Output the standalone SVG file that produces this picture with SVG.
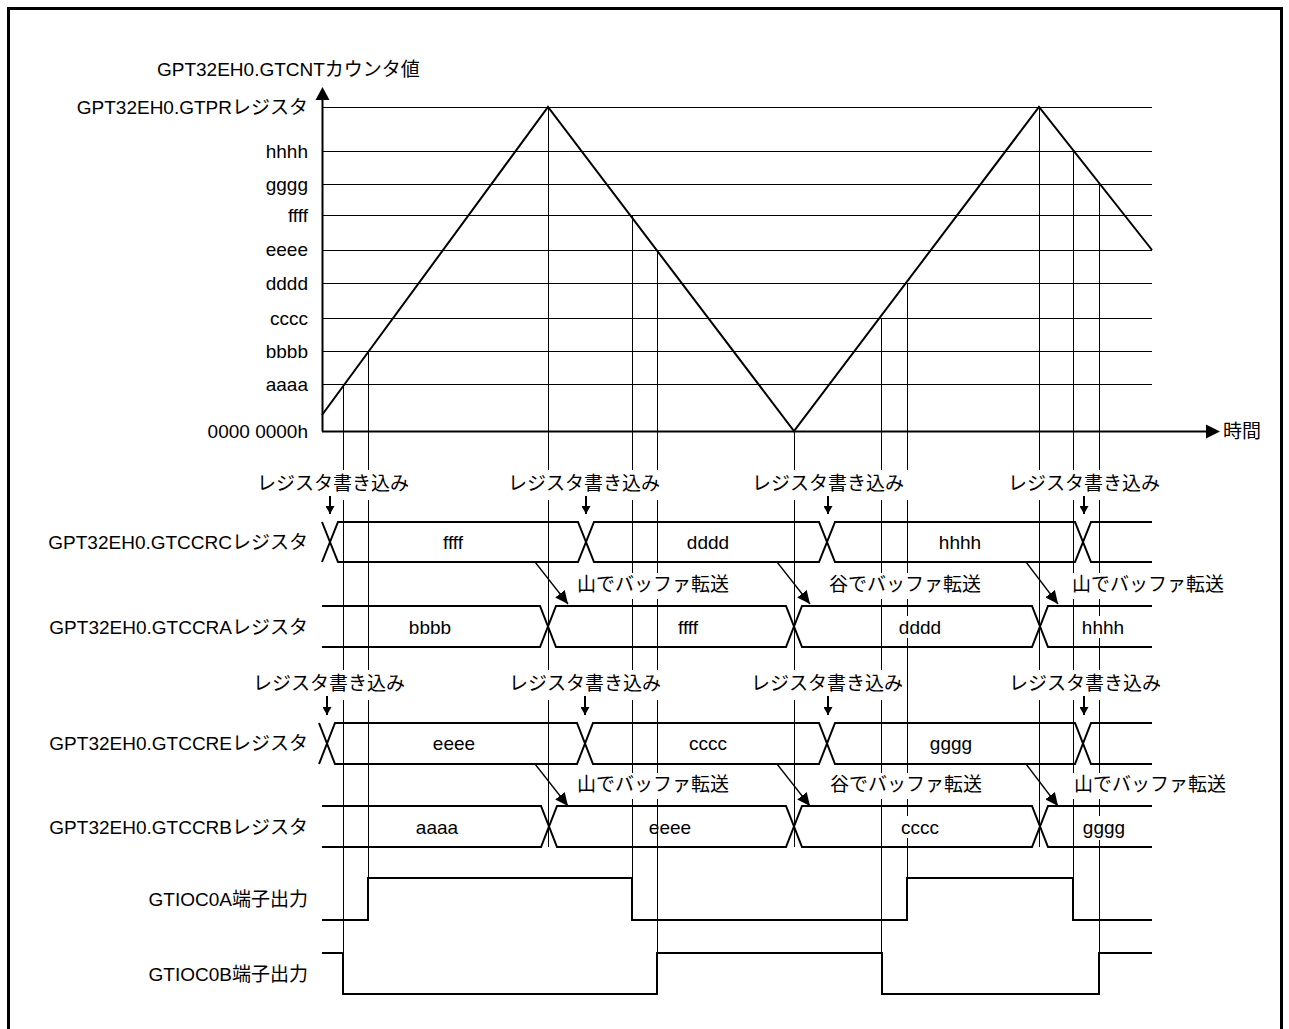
<svg xmlns="http://www.w3.org/2000/svg" width="1289" height="1029" viewBox="0 0 1289 1029">
<style>
text{font-family:"Liberation Sans","Noto Sans CJK JP",sans-serif;font-size:19px;fill:#000}
.r{text-anchor:end}
.m{text-anchor:middle}
.grid{stroke:#000;stroke-width:1;fill:none}
.vl{stroke:#000;stroke-width:1;fill:none}
.sig{stroke:#000;stroke-width:2;fill:none;stroke-linejoin:miter}
.bg{fill:#fff;stroke:none}
.arr{stroke:#000;stroke-width:1.3;fill:none}
.dn{stroke:#000;stroke-width:2;fill:none}
</style>
<defs>
<marker id="ah" markerWidth="14" markerHeight="12" refX="13" refY="6" orient="auto" markerUnits="userSpaceOnUse"><path d="M0,0 L13,6 L0,12 z" fill="#000"/></marker>
<marker id="ahs" markerWidth="9" markerHeight="9" refX="8" refY="4.5" orient="auto" markerUnits="userSpaceOnUse"><path d="M0,0 L8,4.5 L0,9 z" fill="#000"/></marker>
</defs>
<rect x="0" y="0" width="1289" height="1029" fill="#fff"/>
<rect x="8.5" y="8.5" width="1273" height="1100" fill="none" stroke="#000" stroke-width="3"/>

<g id="grid">
<path class="grid" d="M322,107.5H1152 M322,151.5H1152 M322,184.5H1152 M322,215.5H1152 M322,250.5H1152 M322,283.5H1152 M322,318.5H1152 M322,351.5H1152 M322,384.5H1152"/>
</g>

<g id="axes">
<path class="sig" d="M322.5,431.5V98" stroke-width="2"/>
<polygon points="322.5,87 315.5,100 329.5,100" fill="#000"/>
<path class="sig" d="M322,431.5H1208"/>
<polygon points="1220,431.5 1206,424.5 1206,438.5" fill="#000"/>
<text x="157" y="76">GPT32EH0.GTCNTカウンタ値</text>
<text x="1223" y="438">時間</text>
</g>

<g id="ylabels">
<text class="r" x="308" y="114">GPT32EH0.GTPRレジスタ</text>
<text class="r" x="308" y="158">hhhh</text>
<text class="r" x="308" y="191">gggg</text>
<text class="r" x="308" y="222">ffff</text>
<text class="r" x="308" y="256">eeee</text>
<text class="r" x="308" y="290">dddd</text>
<text class="r" x="308" y="325">cccc</text>
<text class="r" x="308" y="358">bbbb</text>
<text class="r" x="308" y="391">aaaa</text>
<text class="r" x="308" y="438">0000 0000h</text>
</g>

<g id="counter">
<polyline class="sig" points="322,415 548,107 794,431 1039,107 1152,250"/>
</g>

<g id="connectors">
<path class="vl" d="M343.5,384V994 M368.5,351V920 M548.5,107V847 M632.5,215V920 M657.5,250V994 M794.5,431V847 M881.5,318V994 M907.5,283V920 M1039.5,107V847 M1073.5,151V920 M1099.5,184V994"/>
</g>

<g id="row-gtccrc">
<path class="sig" d="M322,522 L338,562 L578,562 L594,522 L819,522 L835,562 L1075,562 L1091,522 L1152,522"/>
<path class="sig" d="M322,562 L338,522 L578,522 L594,562 L819,562 L835,522 L1075,522 L1091,562 L1152,562"/>
<text class="r" x="308" y="549">GPT32EH0.GTCCRCレジスタ</text>
<text class="m" x="453" y="549">ffff</text>
<text class="m" x="708" y="549">dddd</text>
<text class="m" x="960" y="549">hhhh</text>
</g>

<g id="row-gtccra">
<path class="sig" d="M322,606 L540,606 L556,647 L786,647 L802,606 L1032,606 L1048,647 L1152,647"/>
<path class="sig" d="M322,647 L540,647 L556,606 L786,606 L802,647 L1032,647 L1048,606 L1152,606"/>
<text class="r" x="308" y="634">GPT32EH0.GTCCRAレジスタ</text>
<text class="m" x="430" y="634">bbbb</text>
<text class="m" x="688" y="634">ffff</text>
<rect class="bg" x="898" y="616" width="44" height="22"/>
<text class="m" x="920" y="634">dddd</text>
<rect class="bg" x="1082" y="616" width="44" height="22"/>
<text class="m" x="1103" y="634">hhhh</text>
</g>

<g id="row-gtccre">
<path class="sig" d="M319,723 L335,764 L577,764 L593,723 L819,723 L835,764 L1075,764 L1091,723 L1152,723"/>
<path class="sig" d="M319,764 L335,723 L577,723 L593,764 L819,764 L835,723 L1075,723 L1091,764 L1152,764"/>
<text class="r" x="308" y="750">GPT32EH0.GTCCREレジスタ</text>
<text class="m" x="454" y="750">eeee</text>
<text class="m" x="708" y="750">cccc</text>
<text class="m" x="951" y="750">gggg</text>
</g>

<g id="row-gtccrb">
<path class="sig" d="M322,806 L541,806 L557,847 L786,847 L802,806 L1032,806 L1048,847 L1152,847"/>
<path class="sig" d="M322,847 L541,847 L557,806 L786,806 L802,847 L1032,847 L1048,806 L1152,806"/>
<text class="r" x="308" y="834">GPT32EH0.GTCCRBレジスタ</text>
<text class="m" x="437" y="834">aaaa</text>
<text class="m" x="670" y="834">eeee</text>
<rect class="bg" x="898" y="816" width="44" height="22"/>
<text class="m" x="920" y="834">cccc</text>
<rect class="bg" x="1082" y="816" width="44" height="24"/>
<text class="m" x="1104" y="834">gggg</text>
</g>

<g id="gtioc0a">
<path class="sig" d="M322,920 H368 V878 H632 V920 H907 V878 H1073 V920 H1152"/>
<text class="r" x="308" y="906">GTIOC0A端子出力</text>
</g>

<g id="gtioc0b">
<path class="sig" d="M322,953 H343 V994 H657 V953 H882 V994 H1099 V953 H1152"/>
<text class="r" x="308" y="981">GTIOC0B端子出力</text>
</g>

<g id="write-labels">
<rect class="bg" x="255" y="470" width="158" height="30"/>
<text x="257" y="490">レジスタ書き込み</text>
<rect class="bg" x="506" y="470" width="158" height="30"/>
<text x="508" y="490">レジスタ書き込み</text>
<rect class="bg" x="750" y="470" width="158" height="30"/>
<text x="752" y="490">レジスタ書き込み</text>
<rect class="bg" x="1006" y="470" width="158" height="30"/>
<text x="1008" y="490">レジスタ書き込み</text>
<rect class="bg" x="251" y="670" width="158" height="30"/>
<text x="253" y="690">レジスタ書き込み</text>
<rect class="bg" x="507" y="670" width="158" height="30"/>
<text x="509" y="690">レジスタ書き込み</text>
<rect class="bg" x="749" y="670" width="158" height="30"/>
<text x="751" y="690">レジスタ書き込み</text>
<rect class="bg" x="1007" y="670" width="158" height="30"/>
<text x="1009" y="690">レジスタ書き込み</text>
</g>

<g id="transfer-labels">
<rect class="bg" x="575" y="573" width="160" height="26"/>
<text x="577" y="591">山でバッファ転送</text>
<rect class="bg" x="827" y="573" width="160" height="26"/>
<text x="829" y="591">谷でバッファ転送</text>
<rect class="bg" x="1070" y="573" width="160" height="26"/>
<text x="1072" y="591">山でバッファ転送</text>
<rect class="bg" x="575" y="773" width="160" height="26"/>
<text x="577" y="791">山でバッファ転送</text>
<rect class="bg" x="828" y="773" width="160" height="26"/>
<text x="830" y="791">谷でバッファ転送</text>
<rect class="bg" x="1072" y="773" width="160" height="26"/>
<text x="1074" y="791">山でバッファ転送</text>
</g>

<g id="arrows">
<path class="dn" d="M330,496V514" marker-end="url(#ahs)"/>
<path class="dn" d="M586,496V514" marker-end="url(#ahs)"/>
<path class="dn" d="M828,496V514" marker-end="url(#ahs)"/>
<path class="dn" d="M1084,496V514" marker-end="url(#ahs)"/>
<path class="dn" d="M327,696V715" marker-end="url(#ahs)"/>
<path class="dn" d="M585,696V715" marker-end="url(#ahs)"/>
<path class="dn" d="M828,696V715" marker-end="url(#ahs)"/>
<path class="dn" d="M1084,696V715" marker-end="url(#ahs)"/>
<path class="arr" d="M535,562L568,604" marker-end="url(#ah)"/>
<path class="arr" d="M777,562L810,604" marker-end="url(#ah)"/>
<path class="arr" d="M1026,562L1058,604" marker-end="url(#ah)"/>
<path class="arr" d="M535,764L568,806" marker-end="url(#ah)"/>
<path class="arr" d="M777,764L810,806" marker-end="url(#ah)"/>
<path class="arr" d="M1026,764L1058,806" marker-end="url(#ah)"/>
</g>
</svg>
